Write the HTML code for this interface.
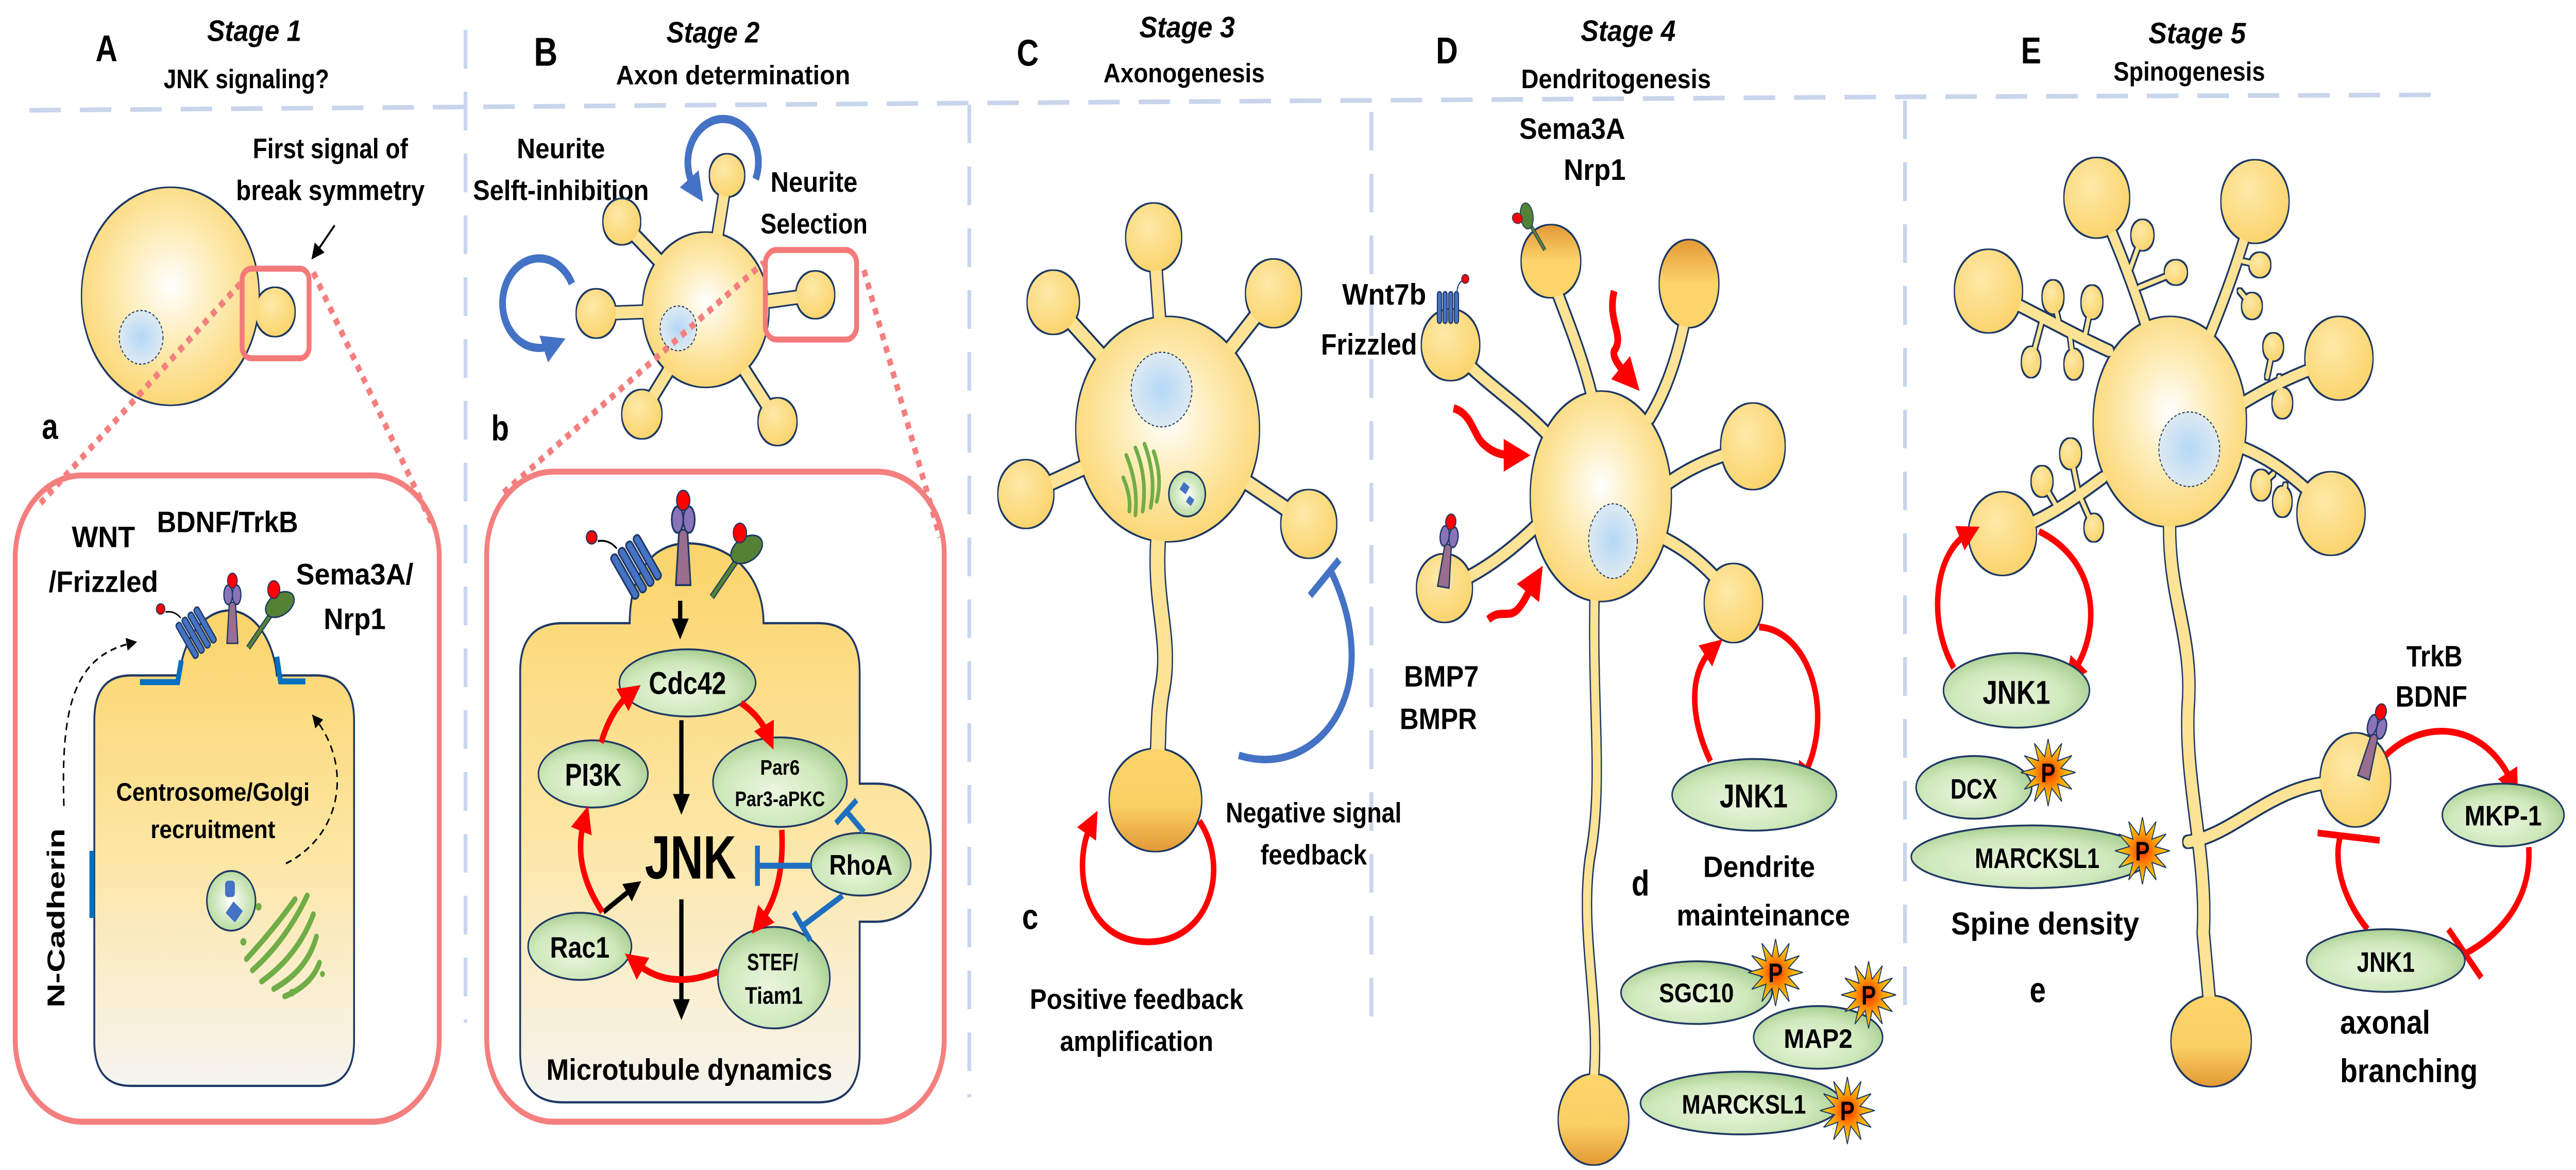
<!DOCTYPE html>
<html><head><meta charset="utf-8"><style>
html,body{margin:0;padding:0;background:#fff;width:100%;height:100%;overflow:hidden}
svg{display:block;width:100%;height:100%}
.t{font-family:"Liberation Sans",sans-serif;font-weight:bold;fill:#000;text-anchor:middle}
.i{font-style:italic}
.l{text-anchor:start}
.ell{fill:url(#gr);stroke:#1f3864;stroke-width:2.5}
.neck{stroke:#fde396;fill:none;stroke-linecap:round}
.red{stroke:#ff0000;stroke-width:9;fill:none}
.blu{stroke:#1f6fc0;stroke-width:8;fill:none}
</style></head><body>
<svg viewBox="0 0 6131 2270" preserveAspectRatio="none" xmlns="http://www.w3.org/2000/svg">
<defs>
<radialGradient id="soma" cx="0.5" cy="0.45" r="0.6"><stop offset="0" stop-color="#ffffff"/><stop offset="0.45" stop-color="#fdecb5"/><stop offset="1" stop-color="#fbd36a"/></radialGradient>
<radialGradient id="bud" cx="0.4" cy="0.35" r="0.7"><stop offset="0" stop-color="#fde9a8"/><stop offset="1" stop-color="#fbd36a"/></radialGradient>
<linearGradient id="cone" x1="0" y1="0" x2="0" y2="1"><stop offset="0" stop-color="#fcd46a"/><stop offset="0.55" stop-color="#fad064"/><stop offset="1" stop-color="#e39a35"/></linearGradient>
<linearGradient id="coneT" x1="0" y1="0" x2="0" y2="1"><stop offset="0" stop-color="#e39a35"/><stop offset="0.5" stop-color="#fcd46a"/><stop offset="1" stop-color="#fcd46a"/></linearGradient>
<radialGradient id="nuc" cx="0.5" cy="0.5" r="0.5"><stop offset="0" stop-color="#b4d8f7"/><stop offset="1" stop-color="#dde9f2"/></radialGradient>
<radialGradient id="gr" cx="0.45" cy="0.6" r="0.65"><stop offset="0" stop-color="#eaf6df"/><stop offset="0.6" stop-color="#cfe8bb"/><stop offset="1" stop-color="#9fc887"/></radialGradient>
<linearGradient id="box" x1="0" y1="0" x2="0" y2="1"><stop offset="0" stop-color="#fbd46a"/><stop offset="0.5" stop-color="#fde6a3"/><stop offset="1" stop-color="#f6f4f0"/></linearGradient>
<radialGradient id="starg" cx="0.5" cy="0.5" r="0.5"><stop offset="0" stop-color="#ff3000"/><stop offset="0.5" stop-color="#ff9a00"/><stop offset="1" stop-color="#ffe600"/></radialGradient>
<radialGradient id="cent" cx="0.5" cy="0.5" r="0.5"><stop offset="0" stop-color="#ffffff"/><stop offset="1" stop-color="#b9dca1"/></radialGradient>
<filter id="ol" x="-10%" y="-10%" width="120%" height="120%"><feMorphology in="SourceAlpha" operator="dilate" radius="2" result="d"/><feFlood flood-color="#1f3864"/><feComposite in2="d" operator="in" result="o"/><feMerge><feMergeNode in="o"/><feMergeNode in="SourceGraphic"/></feMerge></filter>
<marker id="ar" viewBox="0 0 10 10" refX="4" refY="5" markerWidth="4" markerHeight="4" orient="auto"><path d="M0,0 L10,5 L0,10 z" fill="#ff0000"/></marker>
<marker id="ab" viewBox="0 0 10 10" refX="4" refY="5" markerWidth="4" markerHeight="4" orient="auto"><path d="M0,0 L10,5 L0,10 z" fill="#000"/></marker>
<marker id="abl" viewBox="0 0 10 10" refX="4" refY="5" markerWidth="3.5" markerHeight="3.5" orient="auto"><path d="M0,0 L10,5 L0,10 z" fill="#4472c4"/></marker>
<marker id="ad" viewBox="0 0 10 10" refX="4" refY="5" markerWidth="7" markerHeight="7" orient="auto"><path d="M0,0 L10,5 L0,10 z" fill="#000"/></marker>
<g id="star"><polygon points="0,-45 5.7,-21 22.5,-39 15.6,-15.6 39,-22.5 21,-5.7 45,0 21,5.7 39,22.5 15.6,15.6 22.5,39 5.7,21 0,45 -5.7,21 -22.5,39 -15.6,15.6 -39,22.5 -21,5.7 -45,0 -21,-5.7 -39,-22.5 -15.6,-15.6 -22.5,-39 -5.7,-21" fill="url(#starg)" stroke="#1f3864" stroke-width="1.5"/><text class="t" x="0" y="13" font-size="36">P</text></g>
<g id="fzd"><g transform="rotate(-35)"><rect x="-22" y="-28" width="9" height="56" rx="4" fill="#4472c4" stroke="#1f3864" stroke-width="2"/><rect x="-10" y="-28" width="9" height="56" rx="4" fill="#4472c4" stroke="#1f3864" stroke-width="2"/><rect x="2" y="-28" width="9" height="56" rx="4" fill="#4472c4" stroke="#1f3864" stroke-width="2"/><rect x="14" y="-28" width="9" height="56" rx="4" fill="#4472c4" stroke="#1f3864" stroke-width="2"/></g><path d="M-25,-20 q-10,-10 -25,-8" stroke="#000" stroke-width="2" fill="none"/><circle cx="-58" cy="-32" r="7" fill="#ff0000" stroke="#1f3864" stroke-width="1.5"/></g>
<g id="fzdU"><rect x="-22" y="-25" width="8" height="50" rx="4" fill="#4472c4" stroke="#1f3864" stroke-width="2"/><rect x="-11" y="-25" width="8" height="50" rx="4" fill="#4472c4" stroke="#1f3864" stroke-width="2"/><rect x="0" y="-25" width="8" height="50" rx="4" fill="#4472c4" stroke="#1f3864" stroke-width="2"/><rect x="11" y="-25" width="8" height="50" rx="4" fill="#4472c4" stroke="#1f3864" stroke-width="2"/><path d="M16,-25 q2,-15 12,-18" stroke="#1f3864" stroke-width="2" fill="none"/><circle cx="32" cy="-45" r="7" fill="#ff0000" stroke="#1f3864" stroke-width="1.5"/></g>
<g id="trk"><polygon points="-5,-15 5,-15 9,40 -9,40" fill="#9a6e8e" stroke="#1f3864" stroke-width="2"/><ellipse cx="-7" cy="-25" rx="7" ry="13" fill="#8a73b8" stroke="#1f3864" stroke-width="2"/><ellipse cx="7" cy="-25" rx="7" ry="13" fill="#8a73b8" stroke="#1f3864" stroke-width="2"/><ellipse cx="0" cy="-44" rx="8" ry="10" fill="#ff0000" stroke="#1f3864" stroke-width="1.5"/></g>
<g id="sema"><line x1="0" y1="0" x2="40" y2="-48" stroke="#1f3864" stroke-width="8"/><line x1="0" y1="0" x2="40" y2="-48" stroke="#548235" stroke-width="5"/><ellipse cx="52" cy="-58" rx="25" ry="15" transform="rotate(-25 52 -58)" fill="#548235" stroke="#1f3864" stroke-width="2"/><ellipse cx="42" cy="-78" rx="10" ry="12" fill="#ff0000" stroke="#1f3864" stroke-width="1.5"/></g>
</defs>

<g stroke="#c9d5ec" stroke-width="9" stroke-dasharray="75 45" fill="none">
<path d="M70,214 L2300,200 L4500,188 L5823,184"/>
<line x1="1108" y1="58" x2="1108" y2="1984"/>
<line x1="2307" y1="203" x2="2307" y2="2129"/>
<line x1="3264" y1="217" x2="3264" y2="2013"/>
<line x1="4534" y1="195" x2="4534" y2="1969"/>
</g>

<g transform="scale(1.448)">
<text class="t" x="175" y="82" font-size="50">A</text>
<text class="t i" x="418" y="55" font-size="40" textLength="155" lengthAdjust="spacingAndGlyphs">Stage 1</text>
<text class="t" x="405" y="118" font-size="36" textLength="272" lengthAdjust="spacingAndGlyphs">JNK signaling?</text>
<text class="t" x="897" y="88" font-size="54">B</text>
<text class="t i" x="1172" y="57" font-size="40" textLength="153" lengthAdjust="spacingAndGlyphs">Stage 2</text>
<text class="t" x="1205" y="113" font-size="36" textLength="385" lengthAdjust="spacingAndGlyphs">Axon determination</text>

<g filter="url(#ol)">
<line class="neck" x1="400" y1="418" x2="452" y2="418" stroke-width="18"/>
<circle cx="452" cy="418" r="32" fill="url(#bud)"/>
<circle cx="280" cy="397" r="145" fill="url(#soma)"/>
</g>
<circle cx="232" cy="452" r="36" fill="url(#nuc)" stroke="#1f3864" stroke-width="1.5" stroke-dasharray="4 3"/>
<text class="t" x="543" y="212" font-size="38" textLength="255" lengthAdjust="spacingAndGlyphs">First signal of</text>
<text class="t" x="543" y="268" font-size="38" textLength="310" lengthAdjust="spacingAndGlyphs">break symmetry</text>
<line x1="550" y1="302" x2="520" y2="338" stroke="#000" stroke-width="3" marker-end="url(#ad)"/>
<text class="t" x="82" y="588" font-size="48">a</text>

<rect x="25" y="637" width="697" height="866" rx="110" fill="#fff" stroke="#f47f7f" stroke-width="8"/>
<path d="M215,905 L295,905 C300,860 330,820 375,818 C420,818 450,860 455,905 L520,905 Q582,905 582,965 L582,1395 Q582,1455 522,1455 L215,1455 Q155,1455 155,1395 L155,965 Q155,905 215,905 Z" fill="url(#box)" stroke="#1f3864" stroke-width="3"/>
<path d="M230,914 L292,914 L298,885" stroke="#0070c0" stroke-width="8" fill="none"/>
<path d="M455,880 L461,913 L502,913" stroke="#0070c0" stroke-width="8" fill="none"/>
<line x1="151" y1="1140" x2="151" y2="1230" stroke="#0070c0" stroke-width="8"/>
<use href="#fzd" x="322" y="848"/>
<use href="#trk" x="382" y="822"/>
<use href="#sema" x="408" y="868"/>
<text class="t" x="170" y="733" font-size="40" textLength="104" lengthAdjust="spacingAndGlyphs">WNT</text>
<text class="t" x="170" y="793" font-size="40" textLength="180" lengthAdjust="spacingAndGlyphs">/Frizzled</text>
<text class="t" x="374" y="713" font-size="40" textLength="232" lengthAdjust="spacingAndGlyphs">BDNF/TrkB</text>
<text class="t" x="583" y="783" font-size="40" textLength="193" lengthAdjust="spacingAndGlyphs">Sema3A/</text>
<text class="t" x="583" y="843" font-size="40" textLength="102" lengthAdjust="spacingAndGlyphs">Nrp1</text>
<text class="t" x="350" y="1073" font-size="34" textLength="318" lengthAdjust="spacingAndGlyphs">Centrosome/Golgi</text>
<text class="t" x="350" y="1123" font-size="34" textLength="205" lengthAdjust="spacingAndGlyphs">recruitment</text>
<text class="t" transform="translate(106,1230) rotate(-90)" x="0" y="0" font-size="40" textLength="240" lengthAdjust="spacingAndGlyphs">N-Cadherin</text>
<path d="M105,1080 C100,950 120,880 215,862" stroke="#000" stroke-width="2.5" stroke-dasharray="10 7" fill="none" marker-end="url(#ad)"/>
<path d="M470,1157 C560,1120 580,1030 520,965" stroke="#000" stroke-width="2.5" stroke-dasharray="10 7" fill="none" marker-end="url(#ad)"/>
<circle cx="380" cy="1207" r="40" fill="url(#cent)" stroke="#1f3864" stroke-width="2.5"/>
<rect x="370" y="1180" width="16" height="22" rx="5" fill="#4472c4"/>
<rect x="375" y="1212" width="20" height="20" transform="rotate(40 385 1222)" fill="#4472c4"/>
<g stroke="#70ad47" stroke-width="8" fill="none" stroke-linecap="round">
<path d="M415,1300 Q470,1260 505,1200"/>
<path d="M430,1315 Q490,1280 515,1225"/>
<path d="M450,1325 Q505,1300 520,1255"/>
<path d="M405,1285 Q450,1245 485,1205"/>
<path d="M468,1335 Q512,1320 525,1290"/>
</g>
<g fill="#70ad47"><circle cx="400" cy="1262" r="5"/><circle cx="425" cy="1215" r="5"/><circle cx="480" cy="1330" r="5"/><circle cx="530" cy="1305" r="4"/></g>

<line x1="395" y1="380" x2="60" y2="680" stroke="#f47f7f" stroke-width="9" stroke-dasharray="9 9"/>
<line x1="515" y1="365" x2="712" y2="705" stroke="#f47f7f" stroke-width="9" stroke-dasharray="9 9"/>
<rect x="398" y="360" width="110" height="120" rx="15" fill="none" stroke="#f47a7a" stroke-width="8"/>

<text class="t" x="922" y="212" font-size="38" textLength="145" lengthAdjust="spacingAndGlyphs">Neurite</text>
<text class="t" x="922" y="268" font-size="38" textLength="289" lengthAdjust="spacingAndGlyphs">Selft-inhibition</text>
<text class="t" x="1338" y="257" font-size="38" textLength="143" lengthAdjust="spacingAndGlyphs">Neurite</text>
<text class="t" x="1338" y="313" font-size="38" textLength="176" lengthAdjust="spacingAndGlyphs">Selection</text>
<g filter="url(#ol)">
<g class="neck" stroke-width="16">
<line x1="1160" y1="415" x2="1022" y2="297"/><line x1="1160" y1="415" x2="1195" y2="235"/><line x1="1160" y1="415" x2="980" y2="420"/><line x1="1160" y1="415" x2="1340" y2="395"/><line x1="1160" y1="415" x2="1055" y2="555"/><line x1="1160" y1="415" x2="1278" y2="565"/>
</g>
<circle cx="1022" cy="297" r="30" fill="url(#bud)"/><circle cx="1195" cy="235" r="28" fill="url(#bud)"/><circle cx="980" cy="420" r="32" fill="url(#bud)"/><circle cx="1340" cy="395" r="31" fill="url(#bud)"/><circle cx="1055" cy="555" r="32" fill="url(#bud)"/><circle cx="1278" cy="565" r="31" fill="url(#bud)"/>
<circle cx="1160" cy="415" r="103" fill="url(#soma)"/>
</g>
<circle cx="1115" cy="440" r="30" fill="url(#nuc)" stroke="#1f3864" stroke-width="1.5" stroke-dasharray="4 3"/>
<path d="M1242,240 A58,58 0 1 0 1142,252" stroke="#4472c4" stroke-width="11" fill="none" marker-end="url(#abl)"/>
<path d="M940,380 A60,60 0 1 0 908,462" stroke="#4472c4" stroke-width="11" fill="none" marker-end="url(#abl)"/>
<text class="t" x="822" y="590" font-size="48">b</text>

<rect x="800" y="632" width="752" height="871" rx="110" fill="#fff" stroke="#f47f7f" stroke-width="8"/>
<path d="M925,835 L1035,835 C1035,770 1070,728 1130,728 C1200,728 1255,770 1255,835 L1345,835 Q1413,835 1413,900 L1413,1050 L1440,1050 C1510,1050 1530,1100 1530,1140 C1530,1200 1490,1235 1440,1235 L1413,1235 L1413,1410 Q1413,1477 1345,1477 L925,1477 Q855,1477 855,1410 L855,900 Q855,835 925,835 Z" fill="url(#box)" stroke="#1f3864" stroke-width="3"/>
<line x1="828" y1="660" x2="1255" y2="352" stroke="#f47f7f" stroke-width="9" stroke-dasharray="9 9"/>
<line x1="1420" y1="362" x2="1545" y2="720" stroke="#f47f7f" stroke-width="9" stroke-dasharray="9 9"/>
<rect x="1258" y="335" width="150" height="120" rx="18" fill="none" stroke="#f47a7a" stroke-width="8"/>
<g transform="translate(1045,760) scale(1.25)"><use href="#fzd"/></g>
<g transform="translate(1123,730) scale(1.35)"><use href="#trk"/></g>
<g transform="translate(1170,800) scale(1.1)"><use href="#sema"/></g>

<ellipse class="ell" cx="1130" cy="915" rx="112" ry="45"/>
<ellipse class="ell" cx="975" cy="1037" rx="90" ry="45"/>
<ellipse class="ell" cx="1282" cy="1048" rx="110" ry="60"/>
<ellipse class="ell" cx="1415" cy="1158" rx="82" ry="42"/>
<ellipse class="ell" cx="953" cy="1268" rx="85" ry="45"/>
<ellipse class="ell" cx="1272" cy="1310" rx="92" ry="68"/>
<text class="t" x="1130" y="930" font-size="42" textLength="127" lengthAdjust="spacingAndGlyphs">Cdc42</text>
<text class="t" x="975" y="1053" font-size="42" textLength="93" lengthAdjust="spacingAndGlyphs">PI3K</text>
<text class="t" x="1282" y="1038" font-size="28" textLength="65" lengthAdjust="spacingAndGlyphs">Par6</text>
<text class="t" x="1282" y="1080" font-size="28" textLength="148" lengthAdjust="spacingAndGlyphs">Par3-aPKC</text>
<text class="t" x="1415" y="1172" font-size="38" textLength="104" lengthAdjust="spacingAndGlyphs">RhoA</text>
<text class="t" x="953" y="1283" font-size="40" textLength="98" lengthAdjust="spacingAndGlyphs">Rac1</text>
<text class="t" x="1270" y="1300" font-size="32" textLength="84" lengthAdjust="spacingAndGlyphs">STEF/</text>
<text class="t" x="1272" y="1345" font-size="32" textLength="95" lengthAdjust="spacingAndGlyphs">Tiam1</text>
<text class="t" x="1135" y="1177" font-size="82" textLength="150" lengthAdjust="spacingAndGlyphs">JNK</text>
<text class="t" x="1133" y="1447" font-size="40" textLength="470" lengthAdjust="spacingAndGlyphs">Microtubule dynamics</text>
<g stroke="#000" stroke-width="7" fill="none">
<line x1="1118" y1="805" x2="1118" y2="840" marker-end="url(#ab)"/>
<line x1="1120" y1="965" x2="1120" y2="1075" marker-end="url(#ab)"/>
<line x1="1120" y1="1205" x2="1120" y2="1350" marker-end="url(#ab)"/>
<line x1="992" y1="1222" x2="1040" y2="1190" marker-end="url(#ab)"/>
</g>
<g class="red">
<path d="M988,995 Q1005,950 1035,930" marker-end="url(#ar)"/>
<path d="M1218,942 Q1250,960 1262,985" marker-end="url(#ar)"/>
<path d="M1285,1112 Q1290,1190 1250,1235" marker-end="url(#ar)"/>
<path d="M1180,1302 Q1100,1328 1045,1290" marker-end="url(#ar)"/>
<path d="M990,1222 Q940,1160 960,1100" marker-end="url(#ar)"/>
</g>
<g class="blu">
<line x1="1333" y1="1160" x2="1245" y2="1160"/><line x1="1245" y1="1133" x2="1245" y2="1187"/>
<line x1="1420" y1="1115" x2="1392" y2="1088"/><line x1="1374" y1="1103" x2="1408" y2="1072"/>
<line x1="1385" y1="1200" x2="1320" y2="1240"/><line x1="1305" y1="1222" x2="1332" y2="1260"/>
</g>
</g>

<g transform="translate(2000,0) scale(1.448)">
<text class="t" x="308" y="88" font-size="50">C</text>
<text class="t i" x="570" y="50" font-size="40" textLength="157" lengthAdjust="spacingAndGlyphs">Stage 3</text>
<text class="t" x="565" y="110" font-size="36" textLength="265" lengthAdjust="spacingAndGlyphs">Axonogenesis</text>
<text class="t" x="997" y="85" font-size="50">D</text>
<text class="t i" x="1295" y="55" font-size="40" textLength="156" lengthAdjust="spacingAndGlyphs">Stage 4</text>
<text class="t" x="1275" y="118" font-size="36" textLength="312" lengthAdjust="spacingAndGlyphs">Dendritogenesis</text>

<g filter="url(#ol)">
<g class="neck" stroke-width="18">
<line x1="538" y1="575" x2="515" y2="318"/><line x1="538" y1="575" x2="350" y2="405"/><line x1="538" y1="575" x2="712" y2="393"/><line x1="538" y1="575" x2="305" y2="662"/><line x1="538" y1="575" x2="770" y2="702"/>
<path d="M525,700 C510,800 545,850 530,920 C520,960 525,990 520,1020" stroke-width="22"/>
</g>
<circle cx="515" cy="318" r="45" fill="url(#bud)"/><circle cx="350" cy="405" r="42" fill="url(#bud)"/><circle cx="712" cy="393" r="45" fill="url(#bud)"/><circle cx="305" cy="662" r="45" fill="url(#bud)"/><circle cx="770" cy="702" r="45" fill="url(#bud)"/>
<circle cx="538" cy="575" r="150" fill="url(#soma)"/>
<ellipse cx="518" cy="1072" rx="75" ry="68" fill="url(#cone)"/>
</g>
<circle cx="528" cy="522" r="50" fill="url(#nuc)" stroke="#1f3864" stroke-width="1.5" stroke-dasharray="4 3"/>
<g stroke="#70ad47" stroke-width="6" fill="none" stroke-linecap="round">
<path d="M470,610 Q490,650 485,690"/><path d="M485,600 Q505,640 497,685"/><path d="M500,595 Q520,640 510,680"/><path d="M515,605 Q530,640 520,672"/><path d="M465,640 Q478,665 475,685"/>
</g>
<circle cx="570" cy="662" r="30" fill="url(#cent)" stroke="#1f3864" stroke-width="2.5"/>
<rect x="560" y="648" width="12" height="12" fill="#4472c4" transform="rotate(35 566 654)"/><rect x="570" y="666" width="10" height="10" fill="#4472c4" transform="rotate(35 575 671)"/>
<path d="M590,1100 C640,1160 610,1262 505,1262 C400,1262 380,1160 412,1105" class="red" stroke-width="10" marker-end="url(#ar)"/>
<path d="M655,1012 C780,1045 900,930 808,768" stroke="#4472c4" stroke-width="10" fill="none"/>
<line x1="772" y1="798" x2="820" y2="750" stroke="#4472c4" stroke-width="10"/>
<text class="t" x="778" y="1102" font-size="38" textLength="289" lengthAdjust="spacingAndGlyphs">Negative signal</text>
<text class="t" x="778" y="1158" font-size="38" textLength="175" lengthAdjust="spacingAndGlyphs">feedback</text>
<text class="t" x="312" y="1245" font-size="48">c</text>
<text class="t" x="487" y="1352" font-size="38" textLength="351" lengthAdjust="spacingAndGlyphs">Positive feedback</text>
<text class="t" x="487" y="1408" font-size="38" textLength="252" lengthAdjust="spacingAndGlyphs">amplification</text>

<text class="t" x="1203" y="186" font-size="40" textLength="174" lengthAdjust="spacingAndGlyphs">Sema3A</text>
<text class="t" x="1240" y="241" font-size="40" textLength="102" lengthAdjust="spacingAndGlyphs">Nrp1</text>
<text class="t" x="894" y="408" font-size="40" textLength="138" lengthAdjust="spacingAndGlyphs">Wnt7b</text>
<text class="t" x="869" y="475" font-size="40" textLength="158" lengthAdjust="spacingAndGlyphs">Frizzled</text>
<text class="t" x="988" y="920" font-size="40" textLength="123" lengthAdjust="spacingAndGlyphs">BMP7</text>
<text class="t" x="983" y="977" font-size="40" textLength="127" lengthAdjust="spacingAndGlyphs">BMPR</text>
<g filter="url(#ol)">
<g class="neck" stroke-width="15">
<path d="M1250,600 C1240,520 1210,460 1168,370"/>
<path d="M1330,560 C1360,520 1380,470 1395,400"/>
<path d="M1160,580 C1100,530 1050,510 1003,462"/>
<path d="M1340,660 C1400,620 1450,610 1500,598"/>
<path d="M1150,700 C1100,740 1050,770 993,788"/>
<path d="M1350,720 C1400,740 1440,770 1470,808"/>
<path d="M1240,790 C1235,950 1255,1050 1232,1150 C1215,1250 1250,1350 1238,1450" stroke-width="13"/>
</g>
<circle cx="1168" cy="350" r="48" fill="url(#coneT)"/>
<ellipse cx="1395" cy="380" rx="48" ry="58" fill="url(#coneT)"/>
<circle cx="1003" cy="462" r="47" fill="url(#bud)"/>
<ellipse cx="1500" cy="598" rx="52" ry="57" fill="url(#bud)"/>
<circle cx="993" cy="788" r="45" fill="url(#bud)"/>
<ellipse cx="1468" cy="808" rx="47" ry="52" fill="url(#bud)"/>
<ellipse cx="1250" cy="665" rx="115" ry="140" fill="url(#soma)"/>
<ellipse cx="1238" cy="1500" rx="57" ry="60" fill="url(#cone)"/>
</g>
<ellipse cx="1270" cy="725" rx="40" ry="50" fill="url(#nuc)" stroke="#1f3864" stroke-width="1.5" stroke-dasharray="4 3"/>
<g transform="translate(1158,335) scale(0.7) rotate(-75)"><use href="#sema" x="0" y="0"/></g>
<g transform="translate(1000,412) scale(0.85)"><use href="#fzdU"/></g>
<g transform="translate(997,745) scale(1.05) rotate(8)"><use href="#trk"/></g>
<g fill="none" stroke="#ff0000" stroke-width="11">
<path d="M1272,390 C1260,430 1290,450 1272,470 C1268,480 1285,495 1295,505" marker-end="url(#ar)"/>
<path d="M1008,547 C1040,555 1040,585 1060,597 C1075,608 1090,610 1108,610" marker-end="url(#ar)"/>
<path d="M1065,830 C1085,815 1100,830 1115,815 C1125,805 1130,795 1140,780" marker-end="url(#ar)"/>
</g>
</g>

<g transform="translate(3861,0) scale(1.448)">
<text class="t" x="672" y="85" font-size="50">E</text>
<text class="t i" x="945" y="58" font-size="40" textLength="160" lengthAdjust="spacingAndGlyphs">Stage 5</text>
<text class="t" x="932" y="108" font-size="36" textLength="249" lengthAdjust="spacingAndGlyphs">Spinogenesis</text>

<g class="red">
<path d="M145,1020 C110,960 110,900 148,870" marker-end="url(#ar)"/>
<path d="M225,840 C310,845 350,960 298,1040" marker-end="url(#ar)"/>
</g>
<ellipse class="ell" cx="217" cy="1065" rx="135" ry="48"/>
<text class="t" x="216" y="1082" font-size="44" textLength="112" lengthAdjust="spacingAndGlyphs">JNK1</text>
<text class="t" x="30" y="1200" font-size="48">d</text>
<text class="t" x="225" y="1175" font-size="40" textLength="184" lengthAdjust="spacingAndGlyphs">Dendrite</text>
<text class="t" x="232" y="1240" font-size="40" textLength="285" lengthAdjust="spacingAndGlyphs">mainteinance</text>
<ellipse class="ell" cx="122" cy="1330" rx="124" ry="42"/>
<ellipse class="ell" cx="322" cy="1390" rx="106" ry="42"/>
<ellipse class="ell" cx="195" cy="1478" rx="165" ry="42"/>
<text class="t" x="122" y="1343" font-size="36" textLength="123" lengthAdjust="spacingAndGlyphs">SGC10</text>
<text class="t" x="322" y="1404" font-size="36" textLength="113" lengthAdjust="spacingAndGlyphs">MAP2</text>
<text class="t" x="200" y="1492" font-size="36" textLength="204" lengthAdjust="spacingAndGlyphs">MARCKSL1</text>
<use href="#star" x="252" y="1303"/>
<use href="#star" x="405" y="1333"/>
<use href="#star" x="370" y="1488"/>

<g filter="url(#ol)">
<g class="neck" stroke-width="14">
<path d="M870,460 C840,380 810,320 780,265"/>
<path d="M965,450 C1000,380 1020,330 1040,270"/>
<path d="M800,470 C720,440 660,410 602,390"/>
<path d="M1020,540 C1080,510 1130,495 1178,480"/>
<path d="M1020,600 C1080,620 1120,650 1165,688"/>
<path d="M790,640 C740,670 690,700 625,715"/>
<path d="M900,690 C895,800 940,850 930,950 C925,1050 962,1150 955,1250 L965,1340" stroke-width="18"/>
<path d="M930,1128 C1000,1120 1060,1060 1150,1050" stroke-width="15"/>
</g>
<g class="neck" stroke-width="6">
<line x1="720" y1="440" x2="708" y2="398"/><line x1="760" y1="452" x2="772" y2="405"/><line x1="690" y1="430" x2="672" y2="485"/><line x1="735" y1="445" x2="742" y2="488"/><line x1="835" y1="360" x2="855" y2="315"/><line x1="850" y1="385" x2="910" y2="365"/><line x1="1020" y1="350" x2="1048" y2="355"/><line x1="1015" y1="390" x2="1035" y2="410"/><line x1="1060" y1="505" x2="1070" y2="465"/><line x1="1080" y1="505" x2="1085" y2="540"/><line x1="1070" y1="635" x2="1050" y2="650"/><line x1="1090" y1="650" x2="1085" y2="672"/><line x1="750" y1="660" x2="737" y2="608"/><line x1="715" y1="680" x2="690" y2="645"/><line x1="755" y1="670" x2="775" y2="707"/>
</g>
<g fill="url(#bud)">
<ellipse cx="708" cy="398" rx="17" ry="22"/><ellipse cx="772" cy="405" rx="17" ry="22"/><ellipse cx="672" cy="485" rx="15" ry="20"/><ellipse cx="742" cy="488" rx="15" ry="20"/><ellipse cx="855" cy="315" rx="18" ry="20"/><ellipse cx="910" cy="365" rx="18" ry="16"/><ellipse cx="1048" cy="355" rx="17" ry="16"/><ellipse cx="1035" cy="410" rx="16" ry="17"/><ellipse cx="1070" cy="465" rx="16" ry="18"/><ellipse cx="1085" cy="540" rx="16" ry="20"/><ellipse cx="1050" cy="650" rx="16" ry="20"/><ellipse cx="1085" cy="672" rx="15" ry="20"/><ellipse cx="737" cy="608" rx="17" ry="20"/><ellipse cx="690" cy="645" rx="17" ry="20"/><ellipse cx="775" cy="707" rx="15" ry="18"/>
</g>
<circle cx="780" cy="265" r="53" fill="url(#bud)"/><circle cx="1040" cy="270" r="55" fill="url(#bud)"/><circle cx="602" cy="390" r="55" fill="url(#bud)"/><circle cx="1178" cy="480" r="55" fill="url(#bud)"/><circle cx="1165" cy="688" r="55" fill="url(#bud)"/><circle cx="625" cy="715" r="55" fill="url(#bud)"/>
<ellipse cx="1205" cy="1045" rx="57" ry="62" fill="url(#bud)"/>
<ellipse cx="900" cy="565" rx="125" ry="140" fill="url(#soma)"/>
<ellipse cx="968" cy="1395" rx="65" ry="60" fill="url(#cone)"/>
</g>
<circle cx="932" cy="602" r="50" fill="url(#nuc)" stroke="#1f3864" stroke-width="1.5" stroke-dasharray="4 3"/>
<g transform="translate(1232,1000) scale(1.1) rotate(18)"><use href="#trk"/></g>
<g class="red">
<path d="M545,895 C500,830 515,740 568,715" marker-end="url(#ar)"/>
<path d="M685,712 C780,750 790,840 742,900" marker-end="url(#ar)"/>
<path d="M1255,1012 C1320,960 1420,970 1462,1048" marker-end="url(#ar)"/>
<path d="M1490,1135 C1495,1200 1450,1250 1385,1278"/>
<path d="M1225,1245 C1180,1200 1170,1150 1180,1122"/>
</g>
<g stroke="#ff0000" stroke-width="9"><line x1="1143" y1="1116" x2="1245" y2="1126"/><line x1="1358" y1="1245" x2="1412" y2="1310"/></g>
<ellipse class="ell" cx="648" cy="925" rx="120" ry="50"/>
<ellipse class="ell" cx="578" cy="1055" rx="95" ry="42"/>
<ellipse class="ell" cx="672" cy="1148" rx="197" ry="42"/>
<ellipse class="ell" cx="1448" cy="1092" rx="100" ry="42"/>
<ellipse class="ell" cx="1255" cy="1287" rx="130" ry="42"/>
<text class="t" x="648" y="943" font-size="44" textLength="111" lengthAdjust="spacingAndGlyphs">JNK1</text>
<text class="t" x="578" y="1070" font-size="38" textLength="77" lengthAdjust="spacingAndGlyphs">DCX</text>
<text class="t" x="682" y="1163" font-size="38" textLength="205" lengthAdjust="spacingAndGlyphs">MARCKSL1</text>
<text class="t" x="1448" y="1106" font-size="38" textLength="127" lengthAdjust="spacingAndGlyphs">MKP-1</text>
<text class="t" x="1255" y="1302" font-size="38" textLength="95" lengthAdjust="spacingAndGlyphs">JNK1</text>
<use href="#star" x="700" y="1035"/>
<use href="#star" x="855" y="1140"/>
<text class="t" x="695" y="1252" font-size="42" textLength="309" lengthAdjust="spacingAndGlyphs">Spine density</text>
<text class="t" x="683" y="1343" font-size="48">e</text>
<text class="t" x="1335" y="893" font-size="40" textLength="92" lengthAdjust="spacingAndGlyphs">TrkB</text>
<text class="t" x="1330" y="947" font-size="40" textLength="118" lengthAdjust="spacingAndGlyphs">BDNF</text>
<text class="t l" x="1180" y="1385" font-size="44" textLength="148" lengthAdjust="spacingAndGlyphs">axonal</text>
<text class="t l" x="1180" y="1450" font-size="44" textLength="226" lengthAdjust="spacingAndGlyphs">branching</text>
</g>
</svg>
</body></html>
